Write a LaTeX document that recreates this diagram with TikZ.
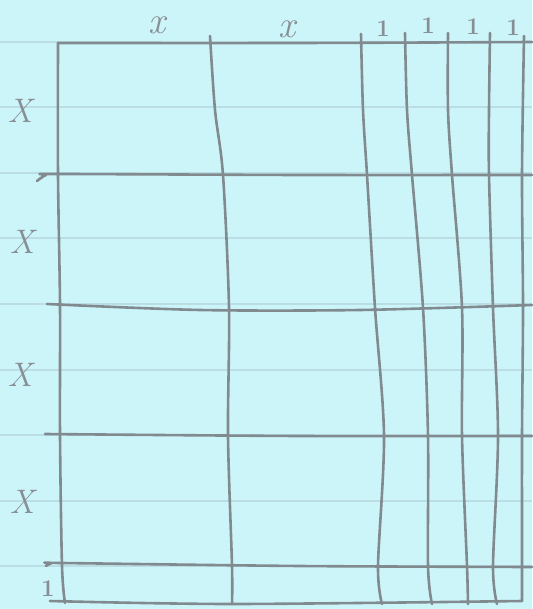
\documentclass[tikz,border=0pt]{standalone}
\usepackage{fontspec}
\definecolor{paper}{RGB}{204,245,250}
\definecolor{ruled}{RGB}{186,222,228}
\definecolor{lead}{RGB}{128,138,143}
\definecolor{leadtext}{RGB}{135,143,148}
\tikzset{
  pencil/.style={draw=lead, line width=2.6pt, line cap=round, line join=round},
  ruleline/.style={draw=ruled, line width=2pt},
  hand/.style={text=leadtext, inner sep=0pt, font=\itshape\fontsize{38}{38}\selectfont},
  handcap/.style={text=leadtext, inner sep=0pt, font=\itshape\fontsize{34}{34}\selectfont},
  tick/.style={text=leadtext, inner sep=0pt, font=\bfseries\fontsize{24}{24}\selectfont}
}
\begin{document}
\begin{tikzpicture}[x=1pt,y=-1pt]
\fill[paper] (0,0) rectangle (532,609);
\useasboundingbox (0,0) rectangle (532,609);
% ruled lines of the paper
\foreach \k in {0,...,8}{
  \draw[ruleline] (0,42+65.5*\k) -- (532,42+65.5*\k);
}
% horizontal pencil lines
\draw[pencil] plot[smooth] coordinates {(58,43) (300,43) (532,42)};
\draw[pencil] plot[smooth] coordinates {(37,181) (46,175) (58,174) (300,175) (532,175)};
\draw[pencil] plot[smooth] coordinates {(47,304) (200,310) (360,310) (532,305)};
\draw[pencil] plot[smooth] coordinates {(45,434) (300,436) (532,436)};
\draw[pencil] plot[smooth] coordinates {(46,566) (52,563) (62,563) (300,566) (532,567)};
\draw[pencil] plot[smooth] coordinates {(50,601) (232,604) (522,601)};
% vertical pencil lines
\draw[pencil] plot[smooth] coordinates {(58,43) (58,175) (60,305) (60,435) (62,566) (65,603)};
\draw[pencil] plot[smooth] coordinates {(210,36) (215,110) (223,175) (229,308) (228,436) (232,566) (232,604)};
\draw[pencil] plot[smooth] coordinates {(361,34) (363,110) (367,175) (375,308) (384,436) (378,566) (382,604)};
\draw[pencil] plot[smooth] coordinates {(405,33) (407,110) (412,175) (423,308) (428,436) (428,566) (432,604)};
\draw[pencil] plot[smooth] coordinates {(448,33) (448,110) (452,175) (462,308) (462,436) (467,566) (468,604)};
\draw[pencil] plot[smooth] coordinates {(490,33) (489,110) (489,175) (493,308) (498,436) (493,566) (497,604)};
\draw[pencil] plot[smooth] coordinates {(524,36) (522,175) (523,308) (522,436) (522,566) (522,601)};
% labels
\node[hand] (tx1) at (157,25) {x};
\node[hand] (tx2) at (287,29) {x};
\node[tick] (t1) at (383,29) {1};
\node[tick] (t2) at (428,26) {1};
\node[tick] (t3) at (473,27) {1};
\node[tick] (t4) at (513,28) {1};
\node[handcap] (lx1) at (20,111) {X};
\node[handcap] (lx2) at (22,242) {X};
\node[handcap] (lx3) at (20,375) {X};
\node[handcap] (lx4) at (22,502) {X};
\node[tick] (b1) at (48,589) {1};
\end{tikzpicture}
\end{document}
